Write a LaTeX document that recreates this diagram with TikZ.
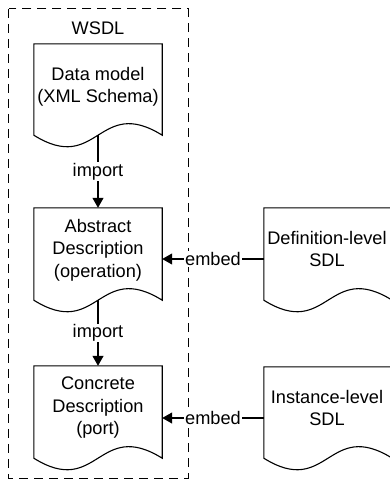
\documentclass[tikz,border=0pt]{standalone}
\usepackage{fontspec}
\setmainfont{Liberation Sans}
\usetikzlibrary{arrows.meta}
\tikzset{
  docbox/.style={draw=none, minimum width=128pt, inner sep=0pt, align=center,
    font=\fontsize{18.2pt}{22.5pt}\selectfont},
  lbl/.style={fill=white, inner sep=1pt, font=\fontsize{18.2pt}{22pt}\selectfont},
  arr/.style={line width=1.1pt, -{Triangle[length=10pt,width=11pt]}},
  frame/.style={line width=1.2pt, dash pattern=on 9pt off 6pt},
  docline/.style={line width=1.1pt, fill=white}
}
\newcommand\drawdoc[1]{%
  \draw[docline] (#1.north west) -- (#1.north east) -- (#1.south east)
    .. controls ([yshift=40pt]#1.south) and ([yshift=-40pt]#1.south) .. (#1.south west) -- cycle;}
\begin{document}
\begin{tikzpicture}[x=1pt,y=-1pt]
\useasboundingbox[fill=white] (0,0) rectangle (390,482);
\node[draw=none, minimum width=179pt, minimum height=469pt, inner sep=0pt] (wsdl) at (98.5,243.5) {};
\draw[frame] (wsdl.north west) rectangle (wsdl.south east);
\node[font=\fontsize{18.2pt}{22pt}\selectfont, inner sep=0pt] (wsdltitle) at (98,28) {WSDL};

\node[docbox, minimum height=91pt] (d1) at (98,89.5) {};
\node[docbox, minimum height=92pt] (d2) at (98,254) {};
\node[docbox, minimum height=92pt] (d3) at (98,412) {};
\node[docbox, minimum height=92pt] (r1) at (328,254) {};
\node[docbox, minimum height=91pt] (r2) at (328,412.5) {};
\drawdoc{d1}\drawdoc{d2}\drawdoc{d3}\drawdoc{r1}\drawdoc{r2}

\node[docbox] (t1) at (98,87) {Data model\\(XML Schema)};
\node[docbox] (t2) at (98,250) {Abstract\\Description\\(operation)};
\node[docbox] (t3) at (98,408) {Concrete\\Description\\(port)};
\node[docbox] (t4) at (327,249) {Definition-level\\SDL};
\node[docbox] (t5) at (327,408) {Instance-level\\SDL};

\draw[arr] (d1.south) -- node[lbl] (i1) {import} (d2.north);
\draw[arr] (d2.south) -- node[lbl] (i2) {import} (d3.north);
\draw[arr] (r1.west |- 0,259) coordinate (e1s) -- node[lbl] (em1) {embed} (d2.east |- e1s);
\draw[arr] (r2.west |- 0,418) coordinate (e2s) -- node[lbl] (em2) {embed} (d3.east |- e2s);
\end{tikzpicture}
\end{document}
